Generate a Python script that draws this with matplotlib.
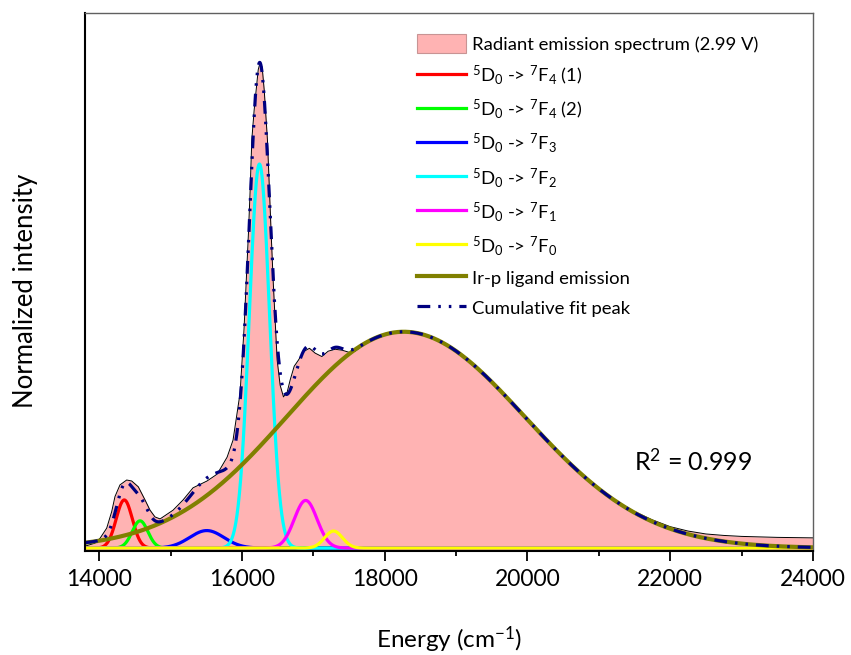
import numpy as np
import matplotlib
matplotlib.use('Agg')
import matplotlib.pyplot as plt
from matplotlib.patches import Patch
from matplotlib.lines import Line2D
from matplotlib.ticker import MultipleLocator

plt.rcParams['font.family'] = ['Lato', 'DejaVu Sans']
plt.rcParams['mathtext.fontset'] = 'custom'
plt.rcParams['mathtext.rm'] = 'Lato'
plt.rcParams['mathtext.it'] = 'Lato:italic'
plt.rcParams['mathtext.bf'] = 'Lato:bold'

spec_x = [13800, 13940, 14010, 14104, 14174, 14220, 14290, 14384, 14454, 14547,
          14641, 14711, 14781, 14852, 15034, 15174, 15314, 15510, 15651, 15791,
          15874, 15973, 16029, 16090, 16114, 16137, 16170, 16198, 16227, 16255,
          16283, 16311, 16356, 16384, 16408, 16436, 16464, 16492, 16534, 16581,
          16633, 16675, 16731, 16792, 16861, 16945, 17025, 17119, 17207, 17305,
          17404, 17516, 17586, 17800, 18000, 18264, 18500, 18800, 19100, 19400,
          19700, 20000, 20250, 20500, 20750, 21000, 21250, 21500, 21750, 22000,
          22250, 22500, 22750, 23000, 23500, 24000]
spec_y = [0.004, 0.010, 0.020, 0.041, 0.075, 0.106, 0.130, 0.140, 0.138, 0.126,
          0.099, 0.078, 0.064, 0.060, 0.078, 0.099, 0.124, 0.138, 0.152, 0.187,
          0.222, 0.319, 0.453, 0.648, 0.737, 0.840, 0.901, 0.942, 0.984, 1.000,
          0.988, 0.942, 0.840, 0.737, 0.648, 0.551, 0.469, 0.387, 0.335, 0.311,
          0.321, 0.346, 0.374, 0.387, 0.404, 0.411, 0.401, 0.394, 0.405, 0.409,
          0.407, 0.402, 0.405, 0.428, 0.440, 0.445, 0.441, 0.423, 0.393, 0.356,
          0.312, 0.264, 0.225, 0.187, 0.153, 0.122, 0.096, 0.075, 0.058, 0.044,
          0.035, 0.029, 0.026, 0.024, 0.022, 0.021]

# gaussian fit peaks: centre (cm-1), height, sigma (cm-1)
peak_labels = [r'$^5$D$_0$ -> $^7$F$_4$ (1)', r'$^5$D$_0$ -> $^7$F$_4$ (2)',
               r'$^5$D$_0$ -> $^7$F$_3$', r'$^5$D$_0$ -> $^7$F$_2$',
               r'$^5$D$_0$ -> $^7$F$_1$', r'$^5$D$_0$ -> $^7$F$_0$']
peak_center = [14350, 14571, 15506, 16244, 16892, 17282]
peak_height = [0.099, 0.056, 0.036, 0.790, 0.098, 0.035]
peak_sigma = [113, 110, 240, 142, 160, 125]
peak_colors = ['#FF0000', '#00FF00', '#0000FF', '#00FFFF', '#FF00FF', '#FFFF00']

# Ir-p ligand band (slightly wider on the high-energy side)
lig_center = 18264
lig_height = 0.445
lig_sigma_left = 1640
lig_sigma_right = 1700

pink = '#FFB3B3'

energy = np.linspace(13800, 24000, 3000)
comps = []
for c, h, s in zip(peak_center, peak_height, peak_sigma):
    comps.append(h * np.exp(-(energy - c) ** 2 / (2 * s ** 2)))
sig = np.where(energy < lig_center, lig_sigma_left, lig_sigma_right)
ligand = lig_height * np.exp(-(energy - lig_center) ** 2 / (2 * sig ** 2))
cumulative = np.sum(comps, axis=0) + ligand

fig = plt.figure(figsize=(8.51, 6.55), dpi=100)
ax = fig.add_axes([0.0999, 0.1588, 0.8554, 0.8214])

ax.fill_between(spec_x, spec_y, -0.01, color=pink, lw=0)
ax.plot(spec_x, spec_y, color='k', lw=0.7)
for comp, col in zip(comps, peak_colors):
    ax.plot(energy, comp, color=col, lw=2.3)
ax.plot(energy, ligand, color='#808000', lw=3)
ax.plot(energy, cumulative, color='#000080', lw=2.3,
        linestyle=(0, (4, 2.5, 0.8, 2.5, 0.8, 2.5)))

ax.set_xlim(13800, 24000)
ax.set_ylim(-0.006, 1.1008)
ax.set_xticks(range(14000, 24001, 2000))
ax.xaxis.set_minor_locator(MultipleLocator(1000))
ax.set_yticks([])
ax.tick_params(axis='x', which='major', direction='out', length=7, width=1.3,
               labelsize=16.5, pad=6)
ax.tick_params(axis='x', which='minor', direction='out', length=3.5, width=1.3)
for side in ['left', 'bottom']:
    ax.spines[side].set_linewidth(1.5)
for side in ['top', 'right']:
    ax.spines[side].set_linewidth(1.0)
    ax.spines[side].set_color('#606060')

ax.set_xlabel('Energy (cm$^{-1}$)', fontsize=17.5, labelpad=25)
ax.set_ylabel('Normalized intensity', fontsize=18.5)
ax.yaxis.set_label_coords(-0.065, 0.483)

ax.text(21499, 0.160, 'R$^2$ = 0.999', fontsize=18, va='baseline', ha='left')

handles = [Patch(facecolor=pink, edgecolor='#C89494', lw=0.8)]
handles += [Line2D([], [], color=c, lw=2.3) for c in peak_colors]
handles += [Line2D([], [], color='#808000', lw=3),
            Line2D([], [], color='#000080', lw=2.3,
                   linestyle=(0, (4, 2.5, 0.8, 2.5, 0.8, 2.5)))]
labels = ['Radiant emission spectrum (2.99 V)'] + peak_labels + \
         ['Ir-p ligand emission', 'Cumulative fit peak']
fig.legend(handles, labels, loc='upper left', bbox_to_anchor=(0.49, 0.9486),
           frameon=False, fontsize=13.3, borderpad=0, borderaxespad=0,
           handlelength=2.65, handletextpad=0.33, handleheight=1.25,
           labelspacing=0.56)

fig.savefig('out.png', dpi=100)
